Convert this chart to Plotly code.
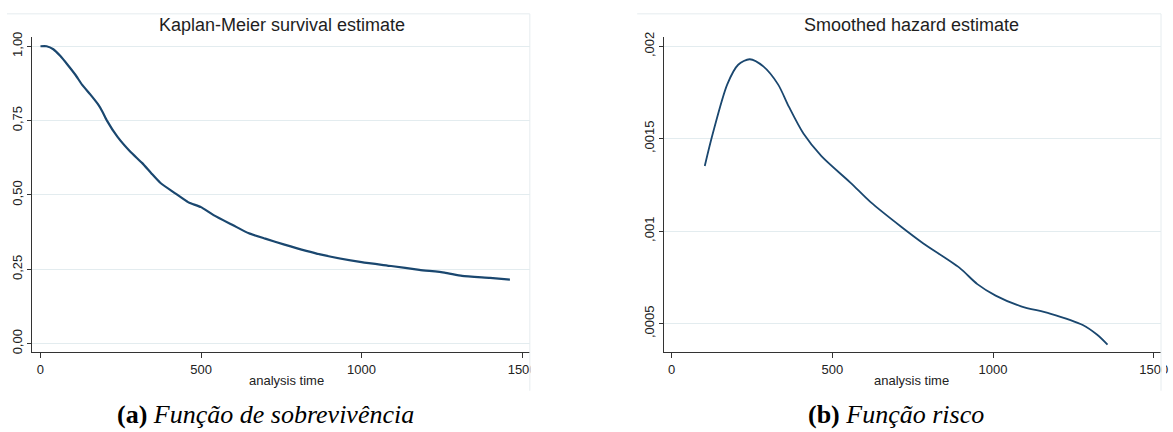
import plotly.graph_objects as go

# ---------------- data ----------------
km_time = [0, 19, 40, 62, 85, 108, 130, 155, 179, 193, 207, 240, 280, 317, 345, 373,
           420, 461, 500, 539, 600, 649, 700, 760, 871, 1000, 1092, 1180, 1258,
           1313, 1400, 1462]
km_surv = [1.0, 1.0, 0.99, 0.967, 0.937, 0.905, 0.87, 0.838, 0.805, 0.78, 0.75,
           0.695, 0.645, 0.607, 0.573, 0.541, 0.505, 0.475, 0.459, 0.432, 0.398,
           0.371, 0.353, 0.333, 0.300, 0.274, 0.261, 0.248, 0.239, 0.228, 0.221,
           0.215]

hz_time = [103, 128, 173, 207, 243, 286, 331, 365, 410, 466, 556, 619, 714, 782,
           895, 951, 1008, 1087, 1177, 1279, 1324, 1356]
hz_rate = [0.001353, 0.001528, 0.001794, 0.0019, 0.00193, 0.00189, 0.001794,
           0.001672, 0.001528, 0.001406, 0.001263, 0.001157, 0.001024, 0.000935,
           0.000803, 0.000714, 0.000652, 0.000594, 0.000555, 0.000493, 0.00044,
           0.000387]

x_tickvals = [0, 500, 1000, 1500]
x_ticktext = ["0", "500", "1000", "1500"]
km_tickvals = [0, 0.25, 0.5, 0.75, 1.0]
km_ticktext = ["0,00", "0,25", "0,50", "0,75", "1,00"]
hz_tickvals = [0.0005, 0.001, 0.0015, 0.002]
hz_ticktext = [",0005", ",001", ",0015", ",002"]

titles = ["Kaplan-Meier survival estimate", "Smoothed hazard estimate"]
xlabel = "analysis time"
captions = ["<b>(a)</b> <i>Função de sobrevivência</i>", "<b>(b)</b> <i>Função risco</i>"]

# ---------------- figure ----------------
W, H = 1173, 432
def px(x):
    return x / W
def py(y):
    return 1 - y / H

NAVY = "#1a476f"
AX = "#333333"
GRID = "#e3ecef"
FAINT = "#e6ecef"
SANS = "Liberation Sans, Arial, sans-serif"
SERIF = "Liberation Serif, Times New Roman, serif"

fig = go.Figure()
fig.add_trace(go.Scatter(x=km_time, y=km_surv, mode="lines",
                         line=dict(color=NAVY, width=2.2, shape="spline", smoothing=0.5),
                         xaxis="x", yaxis="y", hoverinfo="skip"))
fig.add_trace(go.Scatter(x=hz_time, y=hz_rate, mode="lines",
                         line=dict(color=NAVY, width=1.8, shape="spline", smoothing=0.8),
                         xaxis="x2", yaxis="y2", hoverinfo="skip"))

ydom = [py(352.7), py(32)]

def xaxis(dom, rng, anchor):
    return dict(domain=dom, range=rng, anchor=anchor, showline=True, linecolor=AX,
                linewidth=1, ticks="outside", ticklen=5, tickcolor=AX, tickwidth=1,
                tickvals=x_tickvals, ticktext=x_ticktext, showgrid=False, zeroline=False,
                tickfont=dict(family=SANS, size=13, color="#222"), fixedrange=True)

def yaxis(rng, anchor, tv, tt):
    return dict(domain=ydom, range=rng, anchor=anchor, showline=True, linecolor=AX,
                linewidth=1, ticks="outside", ticklen=4, tickcolor=AX, tickwidth=1,
                tickvals=tv, ticktext=tt, tickangle=-90, showgrid=True, gridcolor=GRID,
                gridwidth=1.2, zeroline=False,
                tickfont=dict(family=SANS, size=13, color="#222"), fixedrange=True)

fig.update_layout(
    width=W, height=H, margin=dict(l=0, r=0, t=0, b=0),
    paper_bgcolor="white", plot_bgcolor="white", showlegend=False,
    xaxis=xaxis([px(32), px(533)], [-27, 1524], "y"),
    yaxis=yaxis([-0.0287, 1.0297], "x", km_tickvals, km_ticktext),
    xaxis2=xaxis([px(667.7), px(1167.7)], [-24.7, 1521.6], "y2"),
    yaxis2=yaxis([0.000346, 0.002048], "x2", hz_tickvals, hz_ticktext),
)

ann = []
for xc, t in zip([283.5, 917], titles):
    ann.append(dict(x=px(xc), y=py(19), xref="paper", yref="paper", text=t,
                    showarrow=False, xanchor="center", yanchor="middle",
                    font=dict(family=SANS, size=18, color="#1e1e1e")))
for xc in [288, 917]:
    ann.append(dict(x=px(xc), y=py(382), xref="paper", yref="paper", text=xlabel,
                    showarrow=False, xanchor="center", yanchor="middle",
                    font=dict(family=SANS, size=13, color="#222")))
for xc, c in zip([267, 901], captions):
    ann.append(dict(x=px(xc), y=py(416), xref="paper", yref="paper", text=c,
                    showarrow=False, xanchor="center", yanchor="middle",
                    font=dict(family=SERIF, size=26, color="black")))
fig.update_layout(annotations=ann)

shapes = []
# white masks clipping the last tick label at the panel edge
shapes.append(dict(type="rect", xref="paper", yref="paper", layer="above",
                   x0=px(533.5), x1=px(600), y0=py(380), y1=py(356),
                   fillcolor="white", line=dict(width=0)))
shapes.append(dict(type="rect", xref="paper", yref="paper", layer="above",
                   x0=px(1168.5), x1=1, y0=py(380), y1=py(356),
                   fillcolor="white", line=dict(width=0)))
# faint graph-region borders
for x0, x1 in [(7, 533), (641, 1168)]:
    shapes.append(dict(type="line", xref="paper", yref="paper", layer="above",
                       x0=px(x0), x1=px(x1), y0=py(8), y1=py(8),
                       line=dict(color=FAINT, width=1)))
    shapes.append(dict(type="line", xref="paper", yref="paper", layer="above",
                       x0=px(x1), x1=px(x1), y0=py(8), y1=py(392),
                       line=dict(color=FAINT, width=1)))
fig.update_layout(shapes=shapes)

fig.write_html("out.html")
